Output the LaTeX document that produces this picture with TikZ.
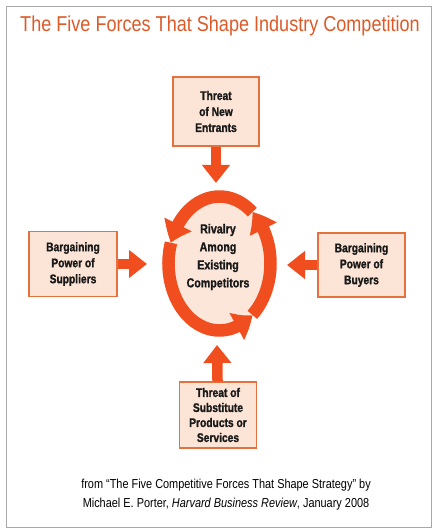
\documentclass[tikz,border=0pt]{standalone}
\usepackage{fontspec}
\setmainfont{Liberation Sans}
\newfontfamily\cond{Liberation Sans}[FakeStretch=0.84]
\newfontfamily\condbf{Liberation Sans Bold}[FakeStretch=0.82, FakeBold=1.2]
\usetikzlibrary{arrows.meta,bending,calc}
\definecolor{porange}{HTML}{F04E1E}
\definecolor{titleor}{HTML}{DE5A28}
\definecolor{boxfill}{HTML}{FCE4D6}
\definecolor{boxline}{HTML}{E5713F}
\definecolor{innerfill}{HTML}{FCE6DA}
\definecolor{framegray}{HTML}{A8A8A8}
\begin{document}
\begin{tikzpicture}[x=1pt,y=1pt,
  forcebox/.style={draw=boxline, line width=1.2pt, fill=boxfill, inner sep=0pt,
    align=center, font=\condbf\fontsize{12.5}{16}\selectfont, text=black!90},
  blockarrow/.style={draw=porange, line width=10.5pt, -{Triangle[width=27pt,length=18pt]}},
  ringseg/.style={draw=porange, line width=12.5pt, -{Triangle[width=29pt,length=20pt,bend]}}]
\useasboundingbox (0,0) rectangle (435,529);
\fill[white] (0,0) rectangle (435,529);
\draw[framegray, line width=0.8pt] (6,1.5) rectangle (431,523);

\node[font=\cond\fontsize{21.5}{24}\selectfont, text=titleor] (title) at (220,503)
  {The Five Forces That Shape Industry Competition};

% boxes
\node[forcebox, minimum width=86pt, minimum height=69pt] (top) at (216,417.5)
  {Threat\\of New\\Entrants};
\node[forcebox, minimum width=88pt, minimum height=65pt] (left) at (73,265)
  {Bargaining\\Power of\\Suppliers};
\node[forcebox, minimum width=87pt, minimum height=64pt] (right) at (361.5,264)
  {Bargaining\\Power of\\Buyers};
\node[forcebox, minimum width=77pt, minimum height=66pt,
  font=\condbf\fontsize{12.5}{15}\selectfont] (bottom) at (218,114)
  {Threat of\\Substitute\\Products or\\Services};

% centre ring
\coordinate (c) at (219.5,265.5);
\fill[innerfill] (c) ellipse [x radius=51pt, y radius=67pt];
\draw[ringseg] ($(c)+(50:51pt and 67pt)$) arc[start angle=50, end angle=162, x radius=51pt, y radius=67pt];
\draw[ringseg] ($(c)+(162:51pt and 67pt)$) arc[start angle=162, end angle=310, x radius=51pt, y radius=67pt];
\draw[ringseg] ($(c)+(310:51pt and 67pt)$) arc[start angle=310, end angle=410, x radius=51pt, y radius=67pt];
\node[align=center, font=\condbf\fontsize{13}{18}\selectfont, text=black!90] (rivalry) at (218,272)
  {Rivalry\\Among\\Existing\\Competitors};

% force arrows
\coordinate (topTip) at (216,346);
\coordinate (leftTip) at (147,265);
\coordinate (rightTip) at (287,264);
\coordinate (bottomTip) at (217,184);
\draw[blockarrow] (top) -- (topTip);
\draw[blockarrow] (left) -- (leftTip);
\draw[blockarrow] (right) -- (rightTip);
\draw[blockarrow] (bottom) -- (bottomTip);

% caption
\node[align=center, font=\cond\fontsize{13}{19}\selectfont, text=black] (caption) at (226,34.5)
  {from “The Five Competitive Forces That Shape Strategy” by\\
   Michael E. Porter, \textit{Harvard Business Review}, January 2008};
\end{tikzpicture}
\end{document}
